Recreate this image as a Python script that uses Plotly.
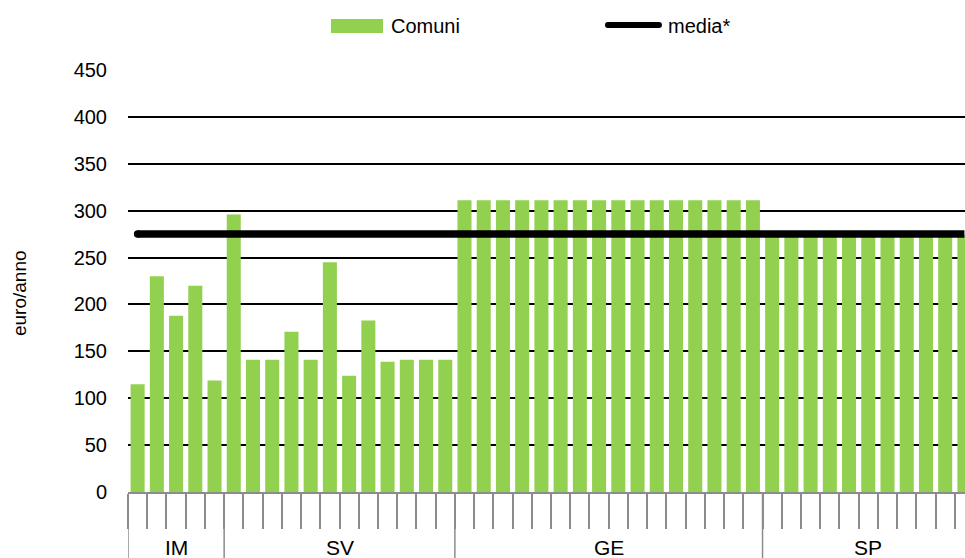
import plotly.graph_objects as go

# Canone annuo per comune, raggruppato per provincia
province_codes = ["IM", "SV", "GE", "SP"]
im_values = [115, 230, 188, 220, 119]
sv_values = [296, 141, 141, 171, 141, 245, 124, 183, 139, 141, 141, 141]
ge_values = [311, 311, 311, 311, 311, 311, 311, 311,
             311, 311, 311, 311, 311, 311, 311, 311]
sp_values = [274, 274, 274, 274, 274, 274, 274, 274, 274, 274, 274]
media_value = 275

y_ticks = [0, 50, 100, 150, 200, 250, 300, 350, 400, 450]

FONT = "Liberation Sans Narrow, Arial Narrow, Liberation Sans, Arial, sans-serif"
GREEN = "#92D050"
GREY = "#8c8c8c"

groups = [im_values, sv_values, ge_values, sp_values]
comuni, valori, starts = [], [], []
for code, vals in zip(province_codes, groups):
    starts.append(len(comuni))
    for k, v in enumerate(vals):
        comuni.append(f"{code}-{k + 1}")
        valori.append(v)

fig = go.Figure()
fig.add_trace(go.Bar(
    x=comuni, y=valori, name="Comuni",
    marker=dict(color=GREEN, line=dict(width=0)),
))
fig.add_trace(go.Scatter(
    x=[comuni[0], comuni[-1]], y=[media_value, media_value], name="media*",
    mode="lines", line=dict(color="black", width=7.5),
))

shapes = []
# rounded start of the average line
shapes.append(dict(type="circle", xref="x", yref="y",
                   xsizemode="pixel", ysizemode="pixel",
                   xanchor=0, yanchor=media_value,
                   x0=-3.75, x1=3.75, y0=-3.75, y1=3.75,
                   fillcolor="black", line=dict(width=0)))

# long separators between provinces (and at the left edge)
for s in starts:
    shapes.append(dict(type="line", xref="x", yref="paper",
                       x0=s - 0.5, x1=s - 0.5, y0=0, y1=-0.2,
                       line=dict(color=GREY, width=1.5)))

# province labels centred under their groups
annotations = []
for code, s, vals in zip(province_codes, starts, groups):
    annotations.append(dict(
        x=s + (len(vals) - 1) / 2, y=-0.132, xref="x", yref="paper",
        text=code, showarrow=False, xanchor="center", yanchor="middle",
        font=dict(family=FONT, size=21, color="black")))

# y axis title
annotations.append(dict(
    x=-0.129, y=0.4716, xref="paper", yref="paper", text="euro/anno",
    textangle=-90, showarrow=False, xanchor="center", yanchor="middle",
    font=dict(family=FONT, size=19, color="black")))

# legend: green swatch + thick rounded line
shapes.append(dict(type="rect", xref="paper", yref="paper",
                   x0=0.2425, x1=0.3047, y0=1.0877, y1=1.1209,
                   fillcolor=GREEN, line=dict(width=0)))
shapes.append(dict(type="path", xref="paper", yref="paper",
                   xsizemode="pixel", ysizemode="pixel",
                   xanchor=0.6039, yanchor=1.1066,
                   path="M -25.5,-3 L 25.5,-3 Q 28.5,-3 28.5,0 Q 28.5,3 25.5,3 "
                        "L -25.5,3 Q -28.5,3 -28.5,0 Q -28.5,-3 -25.5,-3 Z",
                   fillcolor="black", line=dict(width=0)))
annotations.append(dict(x=0.3118, y=1.1043, xref="paper", yref="paper",
                        text="Comuni", showarrow=False, xanchor="left", yanchor="middle",
                        font=dict(family=FONT, size=20, color="black")))
annotations.append(dict(x=0.6428, y=1.1043, xref="paper", yref="paper",
                        text="media*", showarrow=False, xanchor="left", yanchor="middle",
                        font=dict(family=FONT, size=20, color="black")))

fig.update_layout(
    width=965, height=558,
    margin=dict(l=128, r=0, t=70, b=66),
    paper_bgcolor="white", plot_bgcolor="white",
    showlegend=False,
    bargap=0.27,
    font=dict(family=FONT, size=20, color="black"),
    shapes=shapes, annotations=annotations,
    xaxis=dict(
        type="category", categoryorder="array", categoryarray=comuni,
        range=[-0.5, 43.03],
        showticklabels=False, showgrid=False, zeroline=False,
        ticks="outside", tickson="boundaries", ticklen=35,
        tickcolor=GREY, tickwidth=1.5,
        showline=True, linecolor=GREY, linewidth=1.5,
    ),
    yaxis=dict(
        range=[0, 450], tickvals=y_ticks,
        showgrid=True, gridcolor="black", gridwidth=1.5,
        zeroline=False, showline=False, ticks="",
        ticklabelstandoff=20,
        tickfont=dict(family=FONT, size=20, color="black"),
    ),
)

fig.write_html("out.html")
